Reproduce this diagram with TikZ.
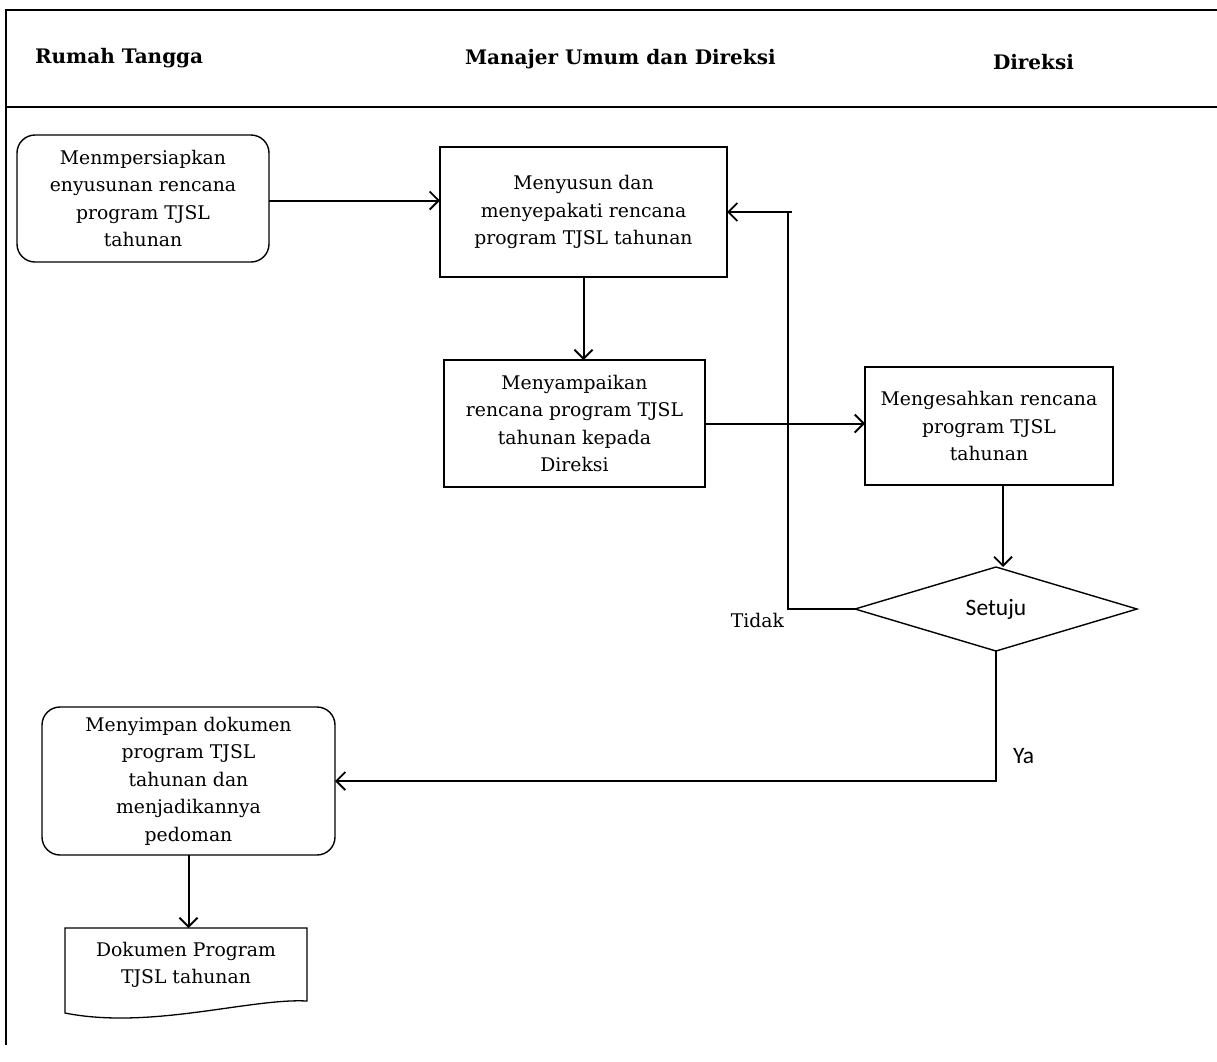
\documentclass[tikz,border=0pt]{standalone}
\usepackage{fontspec}
\setmainfont{DejaVu Serif}
\newfontfamily\sansfnt{Carlito}
\usetikzlibrary{arrows.meta,shapes.geometric}
\begin{document}
\begin{tikzpicture}[x=1pt,y=-1pt,
  every node/.style={inner sep=0pt,outer sep=0pt},
  lane/.style={font=\fontsize{20}{22}\selectfont\bfseries},
  txt/.style={font=\fontsize{18.8}{27.5}\selectfont,align=center},
  proc/.style={draw,line width=1.4pt,rectangle,txt},
  rproc/.style={proc,rounded corners=18pt},
  arr/.style={line width=2pt,-{Straight Barb[length=9pt,width=18pt,line width=1.8pt]}},
  lbl/.style={font=\fontsize{18.8}{20}\selectfont},
  sans/.style={font=\sansfnt\fontsize{23.5}{26}\selectfont}
]
\useasboundingbox (0,0) rectangle (1217,1061);
% frame
\draw[line width=1.4pt] (1217,10) -- (6,10) -- (6,1045);
\draw[line width=1.4pt] (6,107) -- (1217,107);
\node[lane,anchor=west] (h1) at (35,58) {Rumah Tangga};
\node[lane,anchor=west] (h2) at (465,59) {Manajer Umum dan Direksi};
\node[lane,anchor=west] (h3) at (993,62) {Direksi};
% nodes
\node[rproc,minimum width=252pt,minimum height=127pt] (A) at (143,198.5)
  {Menmpersiapkan\\enyusunan rencana\\program TJSL\\tahunan};
\node[proc,minimum width=287pt,minimum height=130pt] (B) at (583.5,212)
  {Menyusun dan\\menyepakati rencana\\program TJSL tahunan};
\node[proc,minimum width=261pt,minimum height=127pt] (C) at (574.5,423.5)
  {Menyampaikan\\rencana program TJSL\\tahunan kepada\\Direksi};
\node[proc,minimum width=248pt,minimum height=118pt] (D) at (989,426)
  {Mengesahkan rencana\\program TJSL\\tahunan};
\node[draw,line width=1.4pt,diamond,minimum width=282pt,minimum height=84pt,sans] (S) at (996,609) {Setuju};
\node[rproc,minimum width=293pt,minimum height=148pt] (E) at (188.5,781)
  {Menyimpan dokumen\\program TJSL\\tahunan dan\\menjadikannya\\pedoman};
% document shape
\node[minimum width=242pt,minimum height=80pt] (F) at (186,968) {};
\draw[line width=1.3pt] (65,928) -- (307,928) -- (307,1001)
  .. controls (250,998) and (150,1030) .. (65,1013) -- cycle;
\node[txt] (Ft) at (186,965) {Dokumen Program\\TJSL tahunan};
% connectors
\draw[arr] ([yshift=-2pt]A.east) -- ([yshift=-2pt]A.east -| B.west);
\draw[arr] (B.south) -- (B.south |- C.north);
\draw[arr] (C.east) -- (C.east -| D.west);
\draw[arr] ([xshift=14pt]D.south) -- ([xshift=14pt]D.south |- S.north);
\coordinate (t) at (788,609);
\draw[arr] (S.west) -- (t) |- (B.east);
\draw[line width=2pt] (t |- B.east) -- ++(4,0);
\draw[arr] (S.south) |- (E.east);
\draw[arr] (E.south) -- (E.south |- F.north);
% labels
\node[lbl,anchor=east] (no) at (784,620) {Tidak};
\node[sans,anchor=west] (yes) at (1013,756) {Ya};
\end{tikzpicture}
\end{document}
